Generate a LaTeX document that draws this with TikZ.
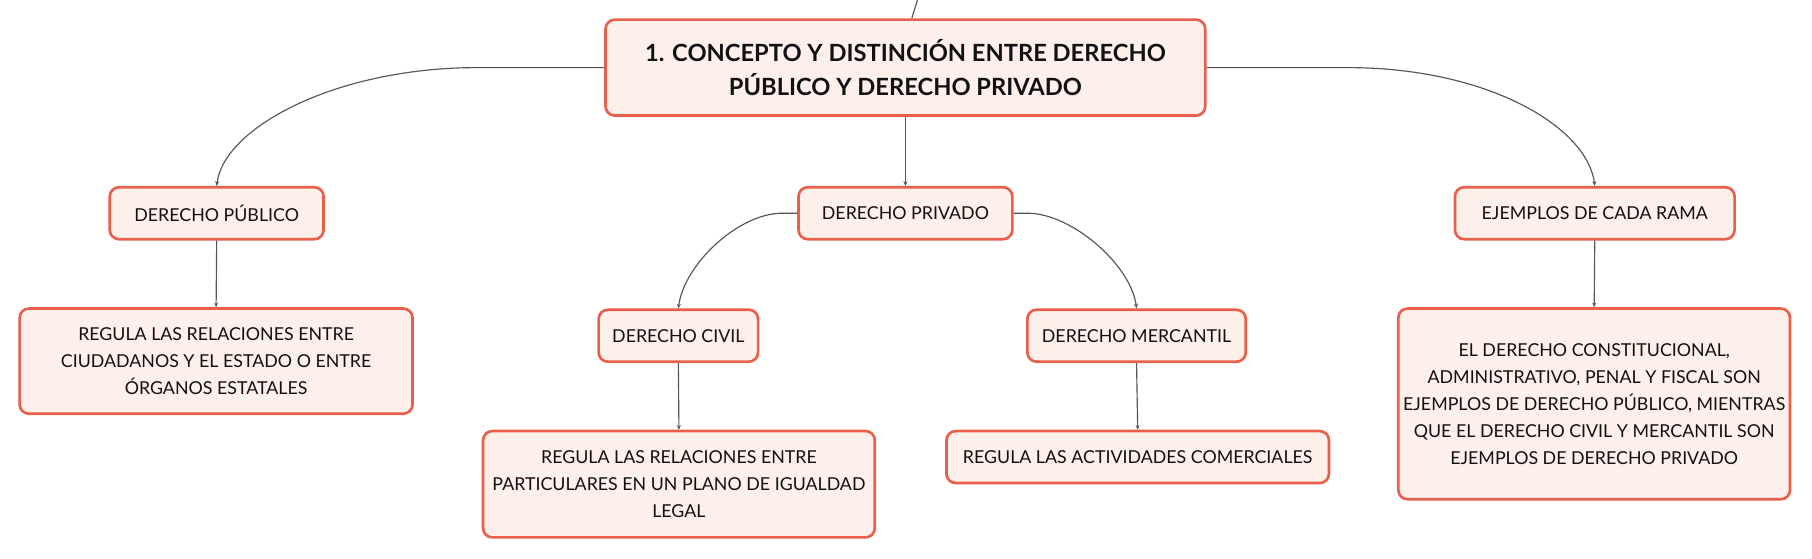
\documentclass[tikz,border=0pt]{standalone}
\usepackage{fontspec}
\setmainfont{Lato}
\usetikzlibrary{arrows.meta}
\definecolor{boxborder}{HTML}{E8604C}
\definecolor{boxfill}{HTML}{FDF0EB}
\definecolor{linegray}{HTML}{555555}
\definecolor{txt}{HTML}{111111}
\tikzset{
  box/.style={draw=boxborder, fill=boxfill, line width=2.3pt, rounded corners=8pt,
    align=center, inner sep=0pt, text=txt, font=\fontsize{15.4}{23.3}\selectfont},
  rootbox/.style={box, font=\fontsize{20.5}{30}\selectfont\bfseries},
  conn/.style={draw=linegray, line width=1pt, -{Stealth[length=4pt,width=3.5pt]}},
  plainconn/.style={draw=linegray, line width=1pt}
}
\begin{document}
\begin{tikzpicture}[x=1pt,y=-1pt]
\useasboundingbox (0,0) rectangle (1568,483);
% nodes
\node[rootbox, minimum width=519pt, minimum height=83pt] (root) at (783.5,58.5)
  {1. CONCEPTO Y DISTINCIÓN ENTRE DERECHO\\PÚBLICO Y DERECHO PRIVADO};
\node[box, minimum width=185pt, minimum height=45pt] (pub) at (187.5,184.5) {DERECHO PÚBLICO};
\node[box, minimum width=340pt, minimum height=91pt] (pubtxt) at (187,312.5)
  {REGULA LAS RELACIONES ENTRE\\CIUDADANOS Y EL ESTADO O ENTRE\\ÓRGANOS ESTATALES};
\node[box, minimum width=185pt, minimum height=45pt] (priv) at (783.5,184.5) {DERECHO PRIVADO};
\node[box, minimum width=138pt, minimum height=45pt] (civil) at (587,290.5) {DERECHO CIVIL};
\node[box, minimum width=189pt, minimum height=45pt] (merc) at (983.5,290.5) {DERECHO MERCANTIL};
\node[box, minimum width=339pt, minimum height=92pt] (civtxt) at (587.5,419)
  {REGULA LAS RELACIONES ENTRE\\PARTICULARES EN UN PLANO DE IGUALDAD\\LEGAL};
\node[box, minimum width=331pt, minimum height=45pt] (merctxt) at (984.5,395.5) {REGULA LAS ACTIVIDADES COMERCIALES};
\node[box, minimum width=242pt, minimum height=45pt] (ej) at (1380,184.5) {EJEMPLOS DE CADA RAMA};
\node[box, minimum width=339pt, minimum height=165pt] (ejtxt) at (1379.5,349.5)
  {EL DERECHO CONSTITUCIONAL,\\ADMINISTRATIVO, PENAL Y FISCAL SON\\EJEMPLOS DE DERECHO PÚBLICO, MIENTRAS\\QUE EL DERECHO CIVIL Y MERCANTIL SON\\EJEMPLOS DE DERECHO PRIVADO};
% connectors
\coordinate (topend) at (794.5,-2);
\draw[plainconn] ([xshift=5.5pt]root.north) -- (topend);
\draw[conn] (root.west) -- ++(-110,0) .. controls +(-123,0) and +(6,-50) .. (pub.north);
\draw[conn] (root.east) -- ++(122,0) .. controls +(123,0) and +(-6,-50) .. (ej.north);
\draw[conn] (root.south) -- (priv.north);
\draw[conn] (pub.south) -- (pubtxt.north);
\draw[conn] (priv.west) -- ++(-13,0) .. controls +(-38,0) and +(5,-38) .. (civil.north);
\draw[conn] (priv.east) -- ++(12,0) .. controls +(38,0) and +(-5,-38) .. (merc.north);
\draw[conn] (civil.south) -- (civtxt.north);
\draw[conn] (merc.south) -- (merctxt.north);
\draw[conn] (ej.south) -- (ejtxt.north);
\end{tikzpicture}
\end{document}
